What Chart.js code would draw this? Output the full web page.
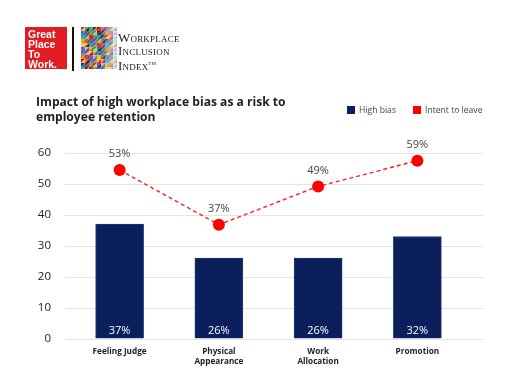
<!DOCTYPE html>
<html>
<head>
<meta charset="utf-8">
<script src="https://cdn.jsdelivr.net/npm/chart.js@4.4.1/dist/chart.umd.min.js"></script>
<style>
  html, body { margin: 0; padding: 0; background: #fff; }
  #wrap { position: relative; width: 512px; height: 384px; overflow: hidden; font-family: "Open Sans", sans-serif; }
  #chart { position: absolute; left: 0; top: 0; }
  .gptw { position: absolute; left: 25px; top: 27px; width: 42px; height: 42px; background: #e31b23;
          color: #fff; font: bold 10.5px "Liberation Sans", Arial, sans-serif; line-height: 10px; padding: 2px 0 0 3px; box-sizing: border-box; }
  .divider { position: absolute; left: 72px; top: 27px; width: 1.5px; height: 44px; background: #111; }
  #mosaic { position: absolute; left: 81px; top: 27px; }
  .wii { position: absolute; left: 118px; top: 31px; font: 13px "Liberation Serif", "DejaVu Serif", serif; font-variant: small-caps;
         line-height: 13px; color: #222; letter-spacing: 0.2px; }
  .wii sup { font-size: 5px; vertical-align: 5px; }
  .title { position: absolute; left: 36px; top: 95px; font-weight: bold; font-size: 12.1px; line-height: 14.5px; color: #222; }
  .legend { position: absolute; top: 105px; font-size: 8.6px; color: #444; line-height: 11px; }
  .legend i { display: inline-block; width: 8px; height: 8px; vertical-align: -1px; margin-right: 4px; }
</style>
</head>
<body>
<div id="wrap">
  <canvas id="chart" width="512" height="384"></canvas>
  <div class="gptw">Great<br>Place<br>To<br>Work.</div>
  <div class="divider"></div>
  <canvas id="mosaic" width="36" height="42"></canvas>
  <div class="wii">Workplace<br>Inclusion<br>Index<sup>TM</sup></div>
  <div class="title">Impact of high workplace bias as a risk to<br>employee retention</div>
  <div class="legend" style="left:347px"><i style="background:#0b1f5c"></i>High bias</div>
  <div class="legend" style="left:413px"><i style="background:#ff0000"></i>Intent to leave</div>
</div>
<script>
const categories = [['Feeling Judge'], ['Physical', 'Appearance'], ['Work', 'Allocation'], ['Promotion']];
const highBias = [37, 26, 26, 33];
const highBiasLabels = ['37%', '26%', '26%', '32%'];
const intentToLeave = [54.5, 36.8, 49.2, 57.5];
const intentLabels = ['53%', '37%', '49%', '59%'];
const yMin = 0;
const yMax = 60;
const yStep = 10;

// logo mosaic, deterministic pattern
const palette = ['#d62839', '#f77f00', '#2a9d8f', '#1d3557', '#e9c46a', '#5a9e4b', '#6a4c93', '#1982c4', '#c1121f', '#ffb703', '#38a3a5', '#8338ec'];
const mctx = document.getElementById('mosaic').getContext('2d');
const cell = 4;
for (let r = 0; r < 11; r++) {
  for (let c = 0; c < 9; c++) {
    const x = c * cell, y = r * cell;
    const fade = c > 5 ? (c - 5) / 4 : 0;
    mctx.globalAlpha = 1 - fade * 0.8;
    mctx.fillStyle = fade > 0.5 ? '#8ec5e8' : palette[(r * 7 + c * 5) % palette.length];
    mctx.beginPath(); mctx.moveTo(x, y); mctx.lineTo(x + cell, y); mctx.lineTo(x, y + cell); mctx.fill();
    mctx.fillStyle = palette[(r * 3 + c * 11 + 4) % palette.length];
    mctx.beginPath(); mctx.moveTo(x + cell, y); mctx.lineTo(x + cell, y + cell); mctx.lineTo(x, y + cell); mctx.fill();
  }
}

const gridPlugin = {
  id: 'wideGrid',
  beforeDatasetsDraw(chart) {
    const { ctx, scales: { y } } = chart;
    ctx.save();
    ctx.strokeStyle = '#e4e4e4';
    ctx.lineWidth = 1;
    y.ticks.forEach(t => {
      const py = Math.round(y.getPixelForValue(t.value)) + 0.5;
      ctx.beginPath(); ctx.moveTo(65, py); ctx.lineTo(483, py); ctx.stroke();
    });
    ctx.restore();
  }
};

const labelPlugin = {
  id: 'valueLabels',
  afterDatasetsDraw(chart) {
    const { ctx, scales: { y } } = chart;
    ctx.save();
    ctx.textAlign = 'center';
    ctx.textBaseline = 'middle';
    ctx.font = '11px "Open Sans"';
    ctx.fillStyle = '#ffffff';
    chart.getDatasetMeta(0).data.forEach((el, i) => {
      ctx.fillText(highBiasLabels[i], el.x, y.getPixelForValue(0) - 8);
    });
    ctx.fillStyle = '#444444';
    chart.getDatasetMeta(1).data.forEach((el, i) => {
      ctx.fillText(intentLabels[i], el.x, el.y - 16);
    });
    ctx.restore();
  }
};

new Chart(document.getElementById('chart'), {
  data: {
    labels: categories,
    datasets: [
      {
        type: 'bar',
        label: 'High bias',
        data: highBias,
        backgroundColor: '#0b1f5c',
        borderColor: '#1f3a7a',
        borderWidth: 1,
        barThickness: 48,
        order: 1
      },
      {
        type: 'line',
        label: 'Intent to leave',
        data: intentToLeave,
        borderColor: '#ff2020',
        borderWidth: 1.4,
        borderDash: [4, 3],
        pointRadius: 6,
        pointBackgroundColor: '#ff0000',
        pointBorderWidth: 0,
        order: 0
      }
    ]
  },
  options: {
    responsive: false,
    animation: false,
    layout: { padding: { top: 153, right: 45, left: 0, bottom: 0 } },
    plugins: { legend: { display: false }, tooltip: { enabled: false } },
    scales: {
      x: {
        grid: { display: false, drawTicks: false },
        border: { display: false },
        ticks: { color: '#222', padding: 8, font: { family: 'Open Sans', size: 8.2, weight: 'bold', lineHeight: 1.2 } },
        afterFit(scale) { scale.height = 45.5; }
      },
      y: {
        min: yMin,
        max: yMax,
        grid: { display: false, drawTicks: false },
        border: { display: false },
        ticks: { stepSize: yStep, color: '#222', padding: 19, font: { family: 'Open Sans', size: 11.5 } },
        afterFit(scale) { scale.width = 70; }
      }
    }
  },
  plugins: [gridPlugin, labelPlugin]
});
</script>
</body>
</html>
